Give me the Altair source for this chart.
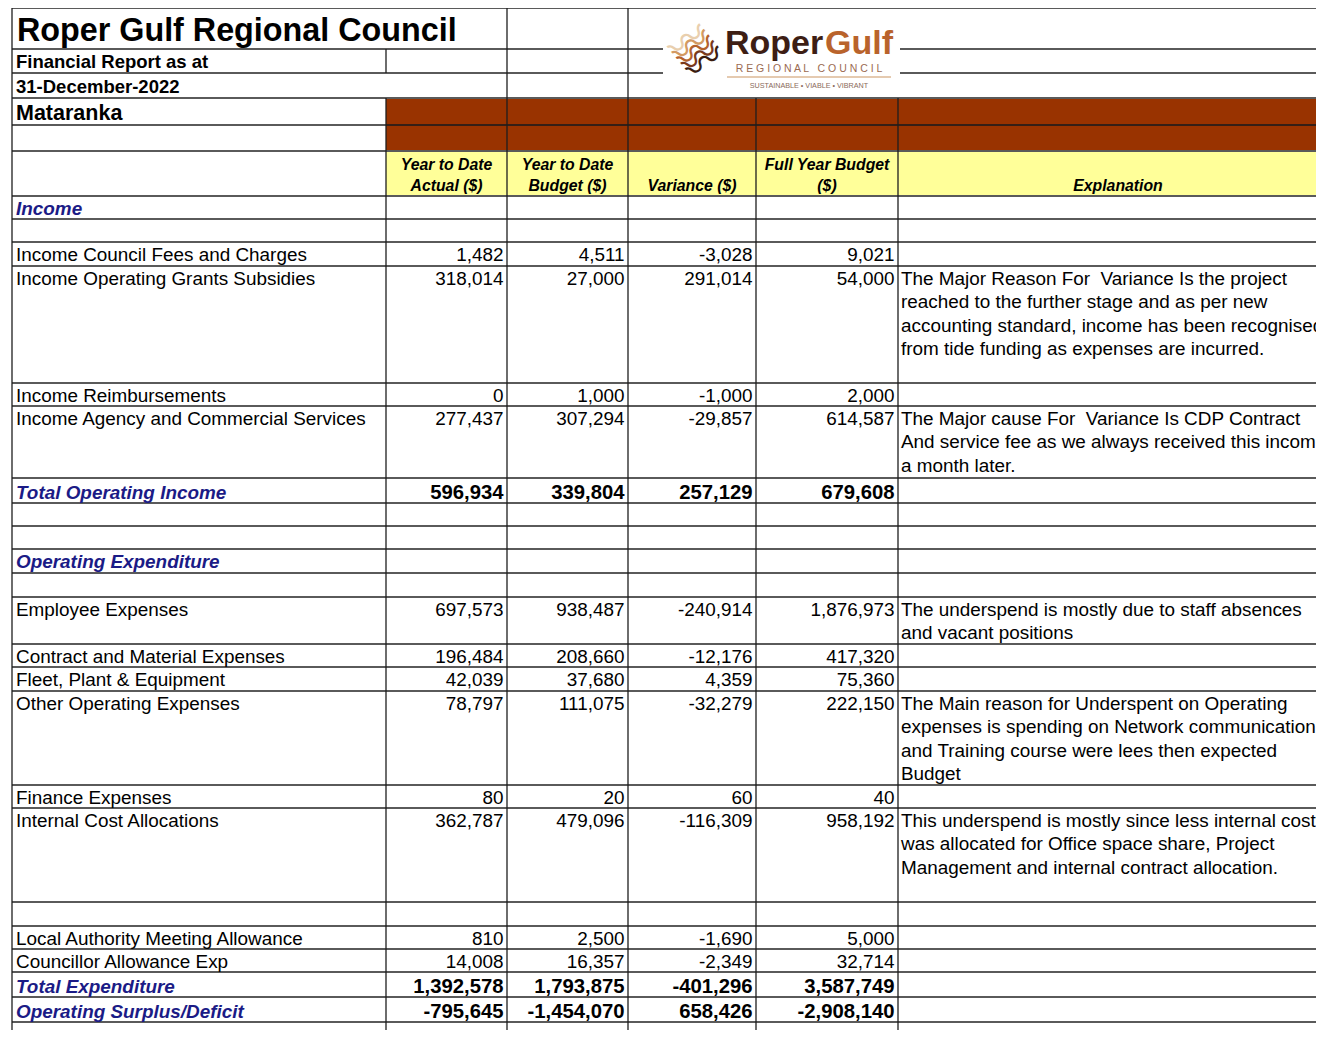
import altair as alt
import pandas as pd

# ---------------- data ----------------
title_text = "Roper Gulf Regional Council"
report_line = "Financial Report as at"
report_date = "31-December-2022"
location = "Mataranka"

header_lines = [
    ["Year to Date", "Actual ($)"],
    ["Year to Date", "Budget ($)"],
    ["Variance ($)"],
    ["Full Year Budget", "($)"],
    ["Explanation"],
]

row_labels = [
    "Income", "", "Income Council Fees and Charges", "Income Operating Grants Subsidies",
    "Income Reimbursements", "Income Agency and Commercial Services", "Total Operating Income",
    "", "", "Operating Expenditure", "", "Employee Expenses", "Contract and Material Expenses",
    "Fleet, Plant & Equipment", "Other Operating Expenses", "Finance Expenses",
    "Internal Cost Allocations", "", "Local Authority Meeting Allowance",
    "Councillor Allowance Exp", "Total Expenditure", "Operating Surplus/Deficit", "",
]
row_kind = [
    "section", "blank", "item", "item", "item", "item", "total",
    "blank", "blank", "section", "blank", "item", "item",
    "item", "item", "item", "item", "blank", "item",
    "item", "total", "total", "blank",
]
ytd_actual = [None, None, 1482, 318014, 0, 277437, 596934, None, None, None, None,
              697573, 196484, 42039, 78797, 80, 362787, None, 810, 14008, 1392578, -795645, None]
ytd_budget = [None, None, 4511, 27000, 1000, 307294, 339804, None, None, None, None,
              938487, 208660, 37680, 111075, 20, 479096, None, 2500, 16357, 1793875, -1454070, None]
variance = [None, None, -3028, 291014, -1000, -29857, 257129, None, None, None, None,
            -240914, -12176, 4359, -32279, 60, -116309, None, -1690, -2349, -401296, 658426, None]
full_year = [None, None, 9021, 54000, 2000, 614587, 679608, None, None, None, None,
             1876973, 417320, 75360, 222150, 40, 958192, None, 5000, 32714, 3587749, -2908140, None]
explanations = {
    3: ["The Major Reason For \u00a0Variance Is the project",
        "reached to the further stage and as per new",
        "accounting standard, income has been recognised",
        "from tide funding as expenses are incurred."],
    5: ["The Major cause For \u00a0Variance Is CDP Contract",
        "And service fee as we always received this income",
        "a month later."],
    11: ["The underspend is mostly due to staff absences",
         "and vacant positions"],
    14: ["The Main reason for Underspent on Operating",
         "expenses is spending on Network communication",
         "and Training course were lees then expected",
         "Budget"],
    16: ["This underspend is mostly since less internal cost",
         "was allocated for Office space share, Project",
         "Management and internal contract allocation."],
}

logo_word1 = "Roper"
logo_word2 = "Gulf"
logo_sub = "R E G I O N A L \u00a0\u00a0C O U N C I L"
logo_tag = "SUSTAINABLE \u2022 VIABLE \u2022 VIBRANT"

# ---------------- layout (page pixels) ----------------
PAGE_W, PAGE_H, M = 1324, 1041, 8
W, H = PAGE_W - 2 * M, PAGE_H - M - 11
col_edges = [12, 386, 507, 628, 756, 898, 1338]
top_edges = [8, 49, 73, 98, 125, 151, 196]
body_heights = [23, 23, 24, 117, 23, 72, 25, 23, 23, 24, 24, 47, 23, 24, 94, 23, 94, 24, 23, 23, 25, 25, 23]
LINE_H = 23.5
FONT = "Liberation Sans"
BLUE = "#1b1b86"
BROWN = "#993300"
YELLOW = "#ffff99"

body_tops = []
y = top_edges[-1]
for h in body_heights:
    body_tops.append(y)
    y += h
body_bottom = y
row_edges = top_edges + [t + h for t, h in zip(body_tops, body_heights)]

xs = alt.Scale(domain=[M, M + W], range=[0, W], nice=False, zero=False)
ys = alt.Scale(domain=[M, M + H], range=[0, H], nice=False, zero=False)
L, R = col_edges[0], col_edges[-1]

# ---------------- fills ----------------
fills = pd.DataFrame([
    dict(x1=col_edges[1], x2=R, y1=top_edges[3], y2=top_edges[5], c=BROWN),
    dict(x1=col_edges[1], x2=R, y1=top_edges[5], y2=top_edges[6], c=YELLOW),
])
fill_layer = alt.Chart(fills).mark_rect(clip=True).encode(
    x=alt.X("x1:Q", scale=xs, axis=None), x2="x2:Q",
    y=alt.Y("y1:Q", scale=ys, axis=None), y2="y2:Q",
    color=alt.Color("c:N", scale=None),
)

# ---------------- grid lines ----------------
hl = []
for e in row_edges:
    if e in (top_edges[1], top_edges[2]):
        hl.append(dict(x1=L, x2=663, y=e))
        hl.append(dict(x1=900, x2=R, y=e))
    else:
        hl.append(dict(x1=L, x2=R, y=e))
h_layer = alt.Chart(pd.DataFrame(hl)).mark_rule(color="#5a5a5a", strokeWidth=1.9, clip=True).encode(
    x=alt.X("x1:Q", scale=xs, axis=None), x2="x2:Q", y=alt.Y("y:Q", scale=ys, axis=None))
hd = pd.DataFrame([dict(x1=col_edges[1], x2=R, y=top_edges[4])])
h_dark = alt.Chart(hd).mark_rule(color="#2a0d00", strokeWidth=1.6, clip=True).encode(
    x=alt.X("x1:Q", scale=xs, axis=None), x2="x2:Q", y=alt.Y("y:Q", scale=ys, axis=None))

vl = [
    dict(x=col_edges[0], y1=top_edges[0], y2=body_bottom),
    dict(x=col_edges[1], y1=top_edges[1], y2=top_edges[2]),
    dict(x=col_edges[1], y1=top_edges[3], y2=body_bottom),
    dict(x=col_edges[2], y1=top_edges[0], y2=body_bottom),
    dict(x=col_edges[3], y1=top_edges[0], y2=body_bottom),
    dict(x=col_edges[4], y1=top_edges[3], y2=body_bottom),
    dict(x=col_edges[5], y1=top_edges[3], y2=body_bottom),
]
v_layer = alt.Chart(pd.DataFrame(vl)).mark_rule(color="#1e1e1e", strokeWidth=1.3, clip=True).encode(
    x=alt.X("x:Q", scale=xs, axis=None), y=alt.Y("y1:Q", scale=ys, axis=None), y2="y2:Q")


def text_layer(recs, size, weight="normal", style="normal", align="left", color="black", font=FONT):
    return alt.Chart(pd.DataFrame(recs)).mark_text(
        align=align, baseline="alphabetic", fontSize=size, fontWeight=weight,
        fontStyle=style, font=font, color=color, clip=True,
    ).encode(x=alt.X("x:Q", scale=xs, axis=None), y=alt.Y("y:Q", scale=ys, axis=None), text="text:N")


# ---------------- texts ----------------
title_layer = text_layer([dict(x=17, y=41, text=title_text)], 32.3, weight="bold")
sub_layer = text_layer([dict(x=16, y=68, text=report_line), dict(x=16, y=92.5, text=report_date)], 18.5, weight="bold")
loc_layer = text_layer([dict(x=16, y=120, text=location)], 21.5, weight="bold")

hdr = []
for ci, lines in enumerate(header_lines):
    cx = (col_edges[ci + 1] + col_edges[ci + 2]) / 2
    n = len(lines)
    for li, s in enumerate(lines):
        hdr.append(dict(x=cx, y=top_edges[6] - 5 - (n - 1 - li) * 21, text=s))
hdr_layer = text_layer(hdr, 15.8, weight="bold", style="italic", align="center")

label_recs, blue_recs, num_recs, bnum_recs, expl_recs = [], [], [], [], []
value_cols = [ytd_actual, ytd_budget, variance, full_year]
for i, (lab, kind) in enumerate(zip(row_labels, row_kind)):
    top = body_tops[i]
    base = top + (21 if kind == "total" else 18.5)
    if kind in ("section", "total"):
        blue_recs.append(dict(x=16, y=base, text=lab))
    elif kind == "item":
        label_recs.append(dict(x=16, y=base, text=lab))
    for ci, vals in enumerate(value_cols):
        v = vals[i]
        if v is None:
            continue
        rec = dict(x=col_edges[ci + 2] - 3.5, y=base, text=f"{v:,}")
        (bnum_recs if kind == "total" else num_recs).append(rec)
    for li, s in enumerate(explanations.get(i, [])):
        expl_recs.append(dict(x=col_edges[5] + 3, y=base + li * LINE_H, text=s))

label_layer = text_layer(label_recs + expl_recs, 18.9)
blue_layer = text_layer(blue_recs, 18.9, weight="bold", style="italic", color=BLUE)
num_layer = text_layer(num_recs, 18.9, align="right")
bnum_layer = text_layer(bnum_recs, 20.3, weight="bold", align="right")

# ---------------- logo ----------------
stripe_colors = ["#e9cfae", "#d39a62", "#b4622d", "#7a3a1c", "#3a1c10"]
stripes = [dict(x=688 + k * 4.5, y=42 + k * 5.5, c=stripe_colors[k], text="\u3030") for k in range(5)]
stripe_layer = alt.Chart(pd.DataFrame(stripes)).mark_text(
    align="center", baseline="middle", fontSize=40, font="Noto Sans CJK JP", angle=325, clip=True,
).encode(x=alt.X("x:Q", scale=xs, axis=None), y=alt.Y("y:Q", scale=ys, axis=None),
         text="text:N", color=alt.Color("c:N", scale=None))
logo1 = text_layer([dict(x=725, y=54, text=logo_word1)], 34, weight="bold", color="#3d1e14")
logo2 = text_layer([dict(x=893, y=54, text=logo_word2)], 34, weight="bold", color="#b9632c", align="right")
logo3 = text_layer([dict(x=809, y=71.5, text=logo_sub)], 10.5, color="#9b6b52", align="center")
logo_rule = alt.Chart(pd.DataFrame([dict(x1=727, x2=891, y=77)])).mark_rule(
    color="#dcb896", strokeWidth=1.5).encode(
    x=alt.X("x1:Q", scale=xs, axis=None), x2="x2:Q", y=alt.Y("y:Q", scale=ys, axis=None))
logo4 = text_layer([dict(x=809, y=88, text=logo_tag)], 7.2, color="#8a6a5a", align="center")

chart = alt.layer(
    fill_layer, h_layer, h_dark, v_layer,
    title_layer, sub_layer, loc_layer, hdr_layer,
    label_layer, blue_layer, num_layer, bnum_layer,
    stripe_layer, logo1, logo2, logo3, logo_rule, logo4,
).properties(
    width=W, height=H, padding=0, autosize="none", background="white",
).configure_view(stroke=None)

chart.save("out.html", embed_options={"renderer": "svg", "actions": False})
